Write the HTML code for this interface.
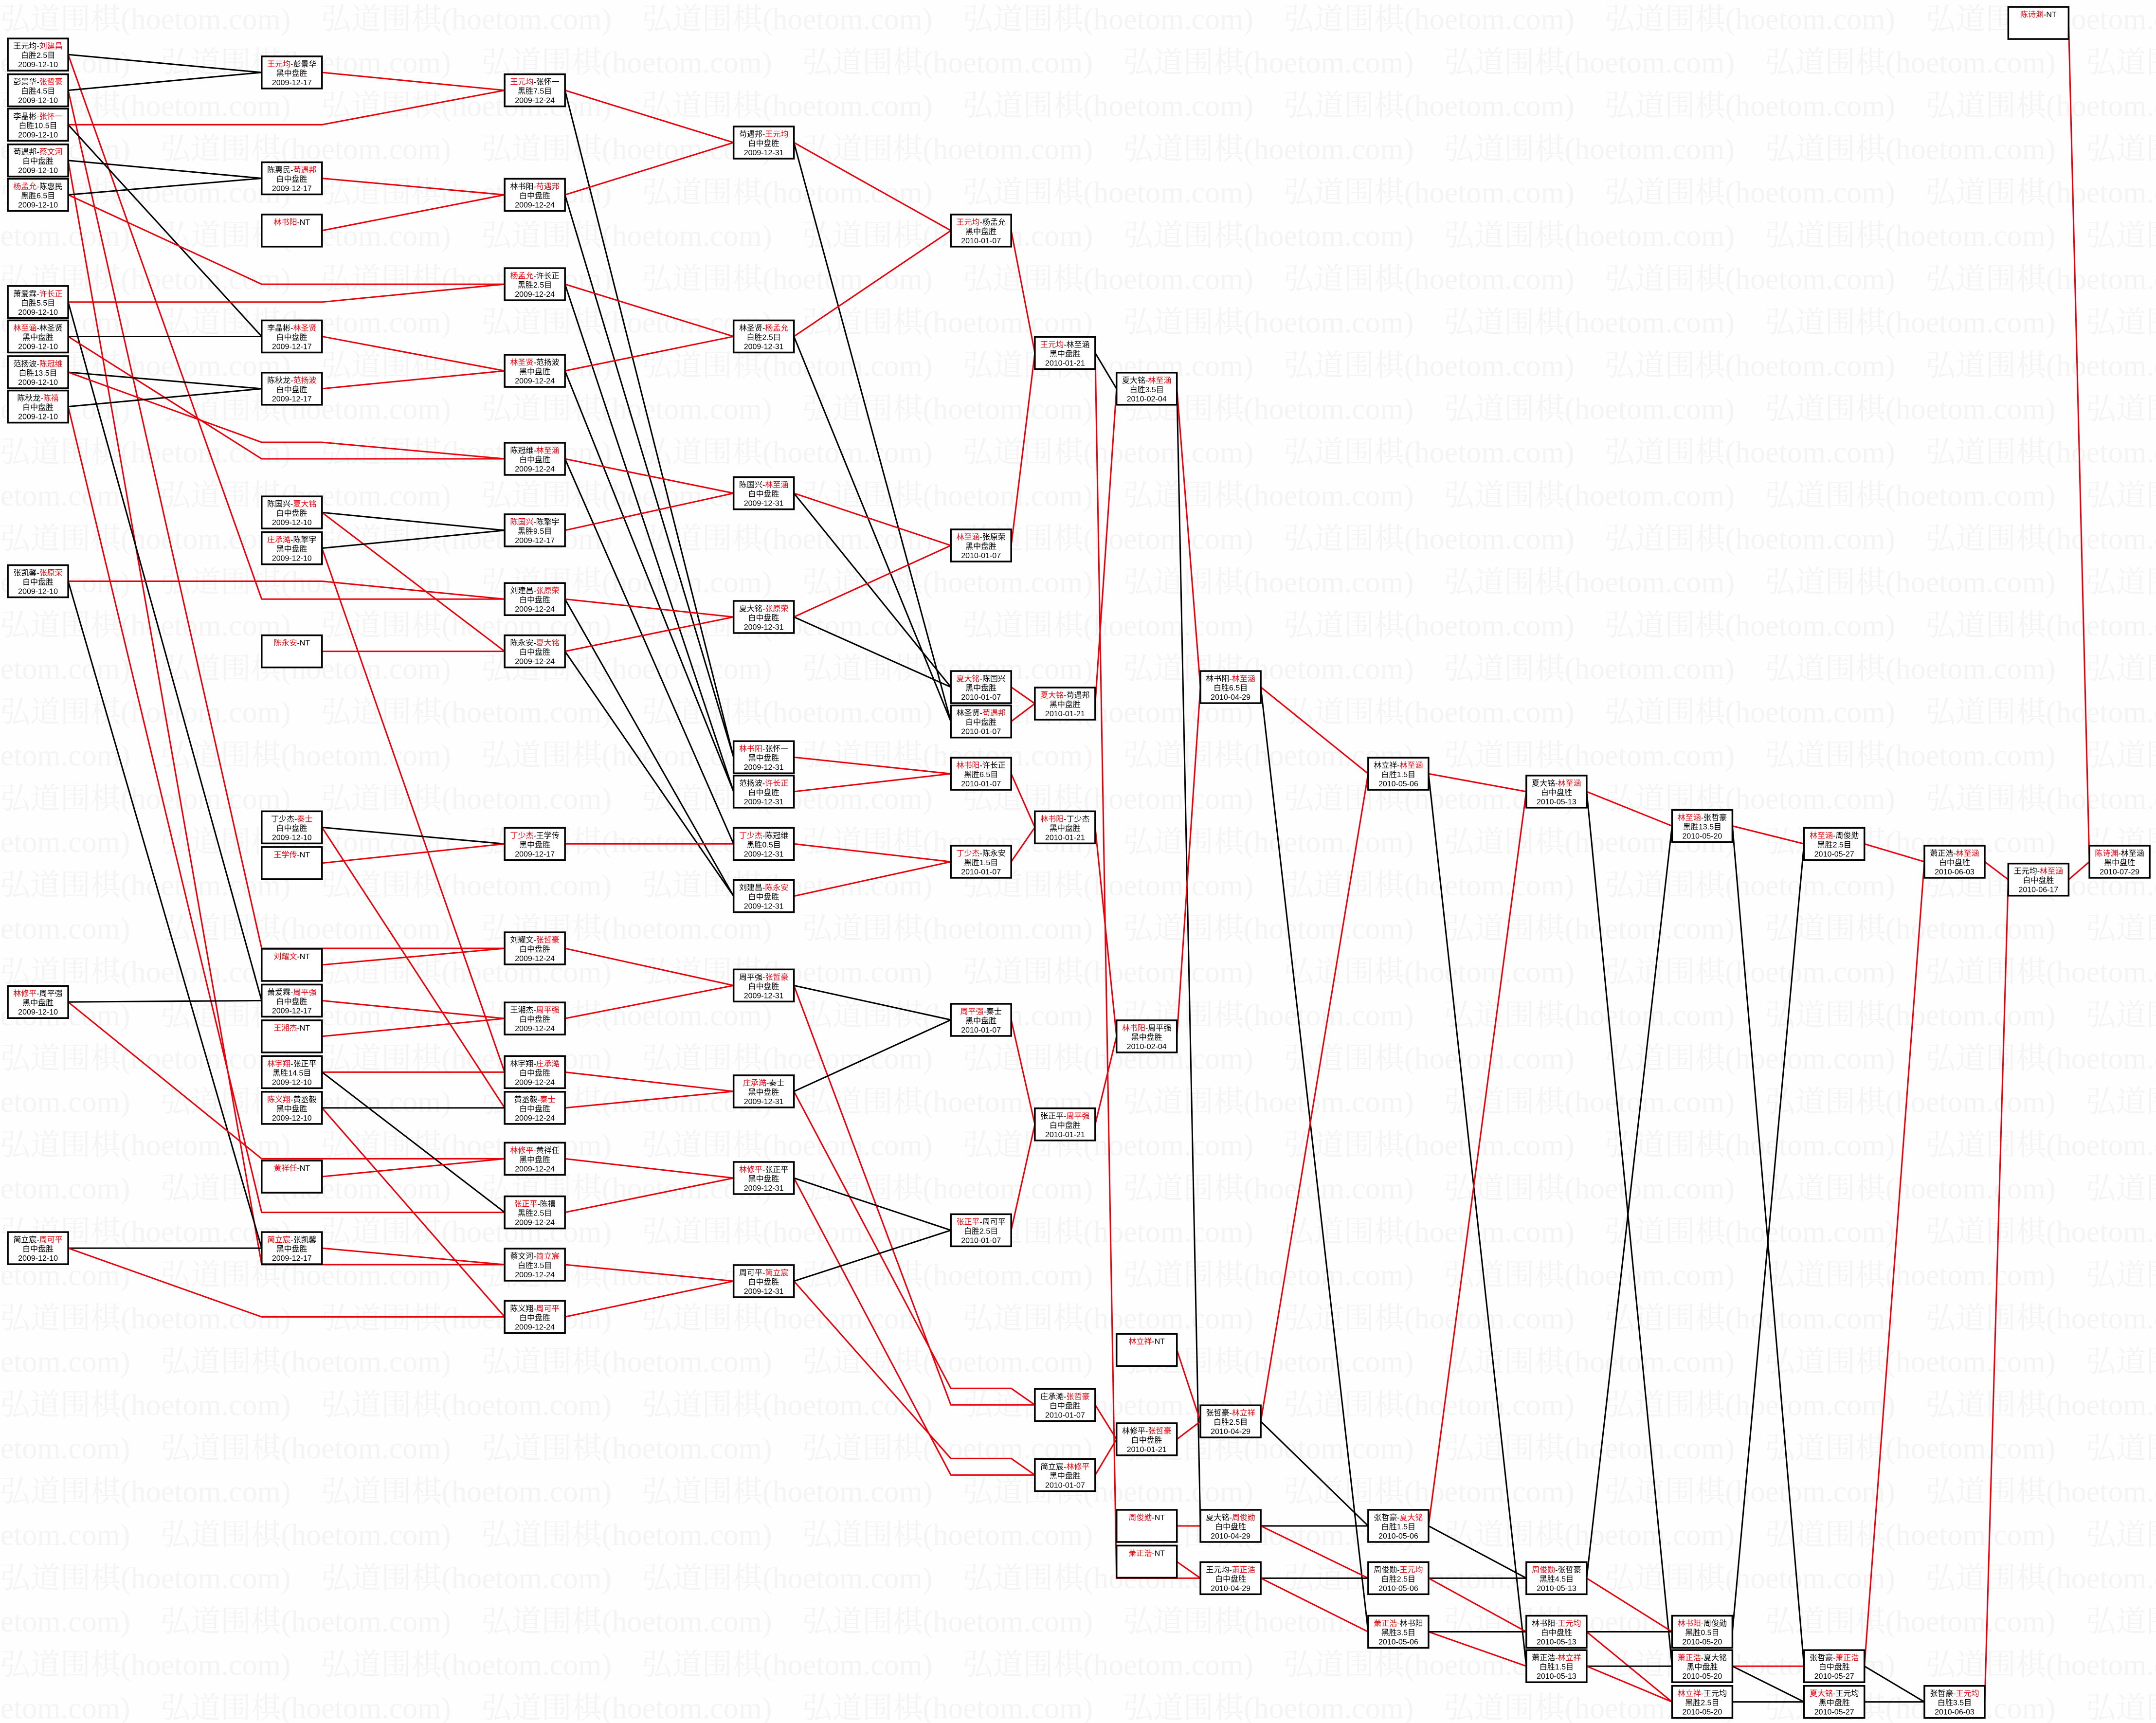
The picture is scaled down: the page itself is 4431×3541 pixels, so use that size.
<!DOCTYPE html>
<html><head><meta charset="utf-8">
<style>
html,body{margin:0;padding:0;background:#fff;}
svg{display:block;}
.t{font-family:"Liberation Sans","Noto Sans CJK SC",sans-serif;font-size:16px;text-anchor:middle;fill:#000;}
.wm{font-family:"Liberation Serif","Noto Serif CJK SC",serif;font-size:62px;fill:#f4f4f4;}
</style></head>
<body>
<svg id="s" xmlns="http://www.w3.org/2000/svg" width="4431" height="3541" viewBox="0 0 4431 3541">
<rect width="4431" height="3541" fill="#fefefe"/>
<g id="wm"></g>
<g id="lines"></g>
<g id="boxes"></g>
</svg>
<script>
var S=2.826,W=124,H=66;
var CX=[5.7,190.3,367,533.5,691.5,752.6,812,873,995,1110,1216,1312,1399.5,1460.5,1519.5];
var B=[
[0,28,"王元均","刘建昌","白胜2.5目","2009-12-10",1],
[0,54,"彭景华","张哲豪","白胜4.5目","2009-12-10",1],
[0,79,"李晶彬","张怀一","白胜10.5目","2009-12-10",1],
[0,105,"苟遇邦","蔡文河","白中盘胜","2009-12-10",1],
[0,130,"杨孟允","陈惠民","黑胜6.5目","2009-12-10",0],
[0,208,"萧爱霖","许长正","白胜5.5目","2009-12-10",1],
[0,233,"林至涵","林圣贤","黑中盘胜","2009-12-10",0],
[0,259,"范扬波","陈冠维","白胜13.5目","2009-12-10",1],
[0,284,"陈秋龙","陈禧","白中盘胜","2009-12-10",1],
[0,411,"张凯馨","张原荣","白中盘胜","2009-12-10",1],
[0,717,"林修平","周平强","黑中盘胜","2009-12-10",0],
[0,896,"简立宸","周可平","白中盘胜","2009-12-10",1],
[1,41,"王元均","彭景华","黑中盘胜","2009-12-17",0],
[1,118,"陈惠民","苟遇邦","白中盘胜","2009-12-17",1],
[1,156,"林书阳","NT"],
[1,233,"李晶彬","林圣贤","白中盘胜","2009-12-17",1],
[1,271,"陈秋龙","范扬波","白中盘胜","2009-12-17",1],
[1,361,"陈国兴","夏大铭","白中盘胜","2009-12-10",1],
[1,387,"庄承澔","陈擎宇","黑中盘胜","2009-12-10",0],
[1,462,"陈永安","NT"],
[1,590,"丁少杰","秦士","白中盘胜","2009-12-10",1],
[1,616,"王学传","NT"],
[1,690,"刘耀文","NT"],
[1,716,"萧爱霖","周平强","白中盘胜","2009-12-17",1],
[1,742,"王湘杰","NT"],
[1,768,"林宇翔","张正平","黑胜14.5目","2009-12-10",0],
[1,794,"陈义翔","黄丞毅","黑中盘胜","2009-12-10",0],
[1,844,"黄祥任","NT"],
[1,896,"简立宸","张凯馨","黑中盘胜","2009-12-17",0],
[2,54,"王元均","张怀一","黑胜7.5目","2009-12-24",0],
[2,130,"林书阳","苟遇邦","白中盘胜","2009-12-24",1],
[2,195,"杨孟允","许长正","黑胜2.5目","2009-12-24",0],
[2,258,"林圣贤","范扬波","黑中盘胜","2009-12-24",0],
[2,322,"陈冠维","林至涵","白中盘胜","2009-12-24",1],
[2,374,"陈国兴","陈擎宇","黑胜9.5目","2009-12-17",0],
[2,424,"刘建昌","张原荣","白中盘胜","2009-12-24",1],
[2,462,"陈永安","夏大铭","白中盘胜","2009-12-24",1],
[2,602,"丁少杰","王学传","黑中盘胜","2009-12-17",0],
[2,678,"刘耀文","张哲豪","白中盘胜","2009-12-24",1],
[2,729,"王湘杰","周平强","白中盘胜","2009-12-24",1],
[2,768,"林宇翔","庄承澔","白中盘胜","2009-12-24",1],
[2,794,"黄丞毅","秦士","白中盘胜","2009-12-24",1],
[2,831,"林修平","黄祥任","黑中盘胜","2009-12-24",0],
[2,870,"张正平","陈禧","黑胜2.5目","2009-12-24",0],
[2,908,"蔡文河","简立宸","白胜3.5目","2009-12-24",1],
[2,946,"陈义翔","周可平","白中盘胜","2009-12-24",1],
[3,92,"苟遇邦","王元均","白中盘胜","2009-12-31",1],
[3,233,"林圣贤","杨孟允","白胜2.5目","2009-12-31",1],
[3,347,"陈国兴","林至涵","白中盘胜","2009-12-31",1],
[3,437,"夏大铭","张原荣","白中盘胜","2009-12-31",1],
[3,539,"林书阳","张怀一","黑中盘胜","2009-12-31",0],
[3,564,"范扬波","许长正","白中盘胜","2009-12-31",1],
[3,602,"丁少杰","陈冠维","黑胜0.5目","2009-12-31",0],
[3,640,"刘建昌","陈永安","白中盘胜","2009-12-31",1],
[3,705,"周平强","张哲豪","白中盘胜","2009-12-31",1],
[3,782,"庄承澔","秦士","黑中盘胜","2009-12-31",0],
[3,845,"林修平","张正平","黑中盘胜","2009-12-31",0],
[3,920,"周可平","简立宸","白中盘胜","2009-12-31",1],
[4,156,"王元均","杨孟允","黑中盘胜","2010-01-07",0],
[4,385,"林至涵","张原荣","黑中盘胜","2010-01-07",0],
[4,488,"夏大铭","陈国兴","黑中盘胜","2010-01-07",0],
[4,513,"林圣贤","苟遇邦","白中盘胜","2010-01-07",1],
[4,551,"林书阳","许长正","黑胜6.5目","2010-01-07",0],
[4,615,"丁少杰","陈永安","黑胜1.5目","2010-01-07",0],
[4,730,"周平强","秦士","黑中盘胜","2010-01-07",0],
[4,883,"张正平","周可平","白胜2.5目","2010-01-07",0],
[5,245,"王元均","林至涵","黑中盘胜","2010-01-21",0],
[5,500,"夏大铭","苟遇邦","黑中盘胜","2010-01-21",0],
[5,590,"林书阳","丁少杰","黑中盘胜","2010-01-21",0],
[5,806,"张正平","周平强","白中盘胜","2010-01-21",1],
[5,1010,"庄承澔","张哲豪","白中盘胜","2010-01-07",1],
[5,1061,"简立宸","林修平","黑中盘胜","2010-01-07",1],
[6,271,"夏大铭","林至涵","白胜3.5目","2010-02-04",1],
[6,742,"林书阳","周平强","黑中盘胜","2010-02-04",0],
[6,970,"林立祥","NT"],
[6,1035,"林修平","张哲豪","白中盘胜","2010-01-21",1],
[6,1098,"周俊勋","NT"],
[6,1124,"萧正浩","NT"],
[7,488,"林书阳","林至涵","白胜6.5目","2010-04-29",1],
[7,1022,"张哲豪","林立祥","白胜2.5目","2010-04-29",1],
[7,1098,"夏大铭","周俊勋","白中盘胜","2010-04-29",1],
[7,1136,"王元均","萧正浩","白中盘胜","2010-04-29",1],
[8,551,"林立祥","林至涵","白胜1.5目","2010-05-06",1],
[8,1098,"张哲豪","夏大铭","白胜1.5目","2010-05-06",1],
[8,1136,"周俊勋","王元均","白胜2.5目","2010-05-06",1],
[8,1175,"萧正浩","林书阳","黑胜3.5目","2010-05-06",0],
[9,564,"夏大铭","林至涵","白中盘胜","2010-05-13",1],
[9,1136,"周俊勋","张哲豪","黑胜4.5目","2010-05-13",0],
[9,1175,"林书阳","王元均","白中盘胜","2010-05-13",1],
[9,1200,"萧正浩","林立祥","白胜1.5目","2010-05-13",1],
[10,589,"林至涵","张哲豪","黑胜13.5目","2010-05-20",0],
[10,1175,"林书阳","周俊勋","黑胜0.5目","2010-05-20",0],
[10,1200,"萧正浩","夏大铭","黑中盘胜","2010-05-20",0],
[10,1226,"林立祥","王元均","黑胜2.5目","2010-05-20",0],
[11,602,"林至涵","周俊勋","黑胜2.5目","2010-05-27",0],
[11,1200,"张哲豪","萧正浩","白中盘胜","2010-05-27",1],
[11,1226,"夏大铭","王元均","黑中盘胜","2010-05-27",0],
[12,615,"萧正浩","林至涵","白中盘胜","2010-06-03",1],
[12,1226,"张哲豪","王元均","白胜3.5目","2010-06-03",1],
[13,5,"陈诗渊","NT"],
[13,628,"王元均","林至涵","白中盘胜","2010-06-17",1],
[14,615,"陈诗渊","林至涵","黑中盘胜","2010-07-29",0]
];
var NS="http://www.w3.org/2000/svg";
function el(t,a,p){var e=document.createElementNS(NS,t);for(var k in a)e.setAttribute(k,a[k]);p.appendChild(e);return e;}
var wm=document.getElementById("wm");
var str="";for(var i=0;i<8;i++)str+="弘道围棋(hoetom.com)　";
for(var r=0;r<40;r++){var y=60+r*89;var off=(r%2)?-330:0;
 var t=el("text",{x:off,y:y,"class":"wm"},wm);t.textContent=str;}
function bx(b){return CX[b[0]]*S;}
function by(b){return b[1]*S;}
var lines=document.getElementById("lines"),boxes=document.getElementById("boxes");
var links=[];
B.forEach(function(b,i){
 var ps=b[3]=="NT"?[b[2]]:[b[2],b[3]];
 ps.forEach(function(p,pi){
  var best=null;
  B.forEach(function(c,j){
   if(c[0]>b[0]&&(c[2]==p||c[3]==p)){ if(!best||c[0]<best[0]) best=c; }
  });
  if(best){
   var red=(b[3]=="NT")||(pi==b[6]);
   links.push({s:b,t:best,red:red});
  }
 });
});
var slotCount={};
links.forEach(function(L){
 var sx=bx(L.s)+W,sy=by(L.s)+H/2,tx=bx(L.t),ty=by(L.t)+H/2;
 var d;
 if(L.t[0]==L.s[0]+1){ d="M"+sx+","+sy+" L"+tx+","+ty; }
 else{
  var sl;
  if(Math.abs(sy-ty)<100) sl=sy;
  else{ var k=B.indexOf(L.t); slotCount[k]=(slotCount[k]||0)+1; sl=ty+(slotCount[k]>1?-34:0); }
  var px=CX[L.t[0]-1]*S;
  d="M"+sx+","+sy+" L"+px+","+sl+" L"+(px+W)+","+sl+" L"+tx+","+ty;
 }
 el("path",{d:d,fill:"none",stroke:L.red?"#e8000b":"#000","stroke-width":3},lines);
});
B.forEach(function(b){
 var x=bx(b),y=by(b);
 el("rect",{x:x,y:y,width:W,height:H,fill:"#fff",stroke:"#000","stroke-width":3.5},boxes);
 var cx=x+W/2;
 var t=el("text",{x:cx,y:y+21,"class":"t"},boxes);
 var a=el("tspan",{fill:(b[3]=="NT"||b[6]==0)?"#e8000b":"#000"},t);a.textContent=b[2];
 var m=el("tspan",{fill:"#000"},t);m.textContent="-";
 var c=el("tspan",{fill:(b[3]!="NT"&&b[6]==1)?"#e8000b":"#000"},t);c.textContent=b[3];
 if(b[3]!="NT"){
  var t2=el("text",{x:cx,y:y+40,"class":"t"},boxes);t2.textContent=b[4];
  var t3=el("text",{x:cx,y:y+59,"class":"t"},boxes);t3.textContent=b[5];
 }
});
</script>
</body></html>
